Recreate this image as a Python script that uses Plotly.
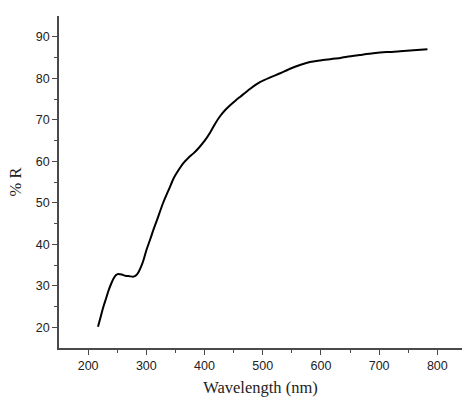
import plotly.graph_objects as go

wavelength = [217, 222, 226, 231, 235, 240, 244, 248, 252, 258, 264, 271, 278, 283, 287, 291,
              295, 300, 306, 312, 318, 329, 340, 347, 356, 364, 372, 381, 390, 400, 410,
              418, 427, 436, 444, 453, 461, 478, 496, 513, 530, 547, 564, 581, 599,
              616, 633, 645, 667, 690, 713, 736, 759, 783]
reflectance = [20.1, 22.7, 24.8, 27.0, 28.8, 30.6, 31.8, 32.6, 32.85, 32.7, 32.4, 32.3, 32.2, 32.6, 33.4, 34.6,
               36.1, 38.5, 40.9, 43.4, 45.7, 50.0, 53.6, 55.9, 58.0, 59.6, 60.8, 61.9, 63.2, 64.9, 67.0,
               69.0, 70.9, 72.4, 73.5, 74.6, 75.5, 77.4, 79.1, 80.2, 81.2, 82.3, 83.2, 83.9, 84.3,
               84.6, 84.9, 85.2, 85.6, 86.0, 86.3, 86.5, 86.75, 87.0]

fig = go.Figure()
fig.add_trace(go.Scatter(x=wavelength, y=reflectance, mode="lines",
                         line=dict(color="black", width=2, shape="spline", smoothing=0.7),
                         hoverinfo="skip"))

axis_color = "#4a4a4a"
fig.update_layout(
    width=462, height=397,
    margin=dict(l=59, r=0, t=16, b=49),
    paper_bgcolor="white", plot_bgcolor="white",
    showlegend=False,
    xaxis=dict(
        range=[150, 842.4], tickvals=[200, 300, 400, 500, 600, 700, 800],
        showgrid=False, zeroline=False,
        showline=True, linecolor=axis_color, linewidth=1.5,
        ticks="outside", ticklen=5, tickwidth=1.2, tickcolor=axis_color,
        minor=dict(tickvals=[250, 350, 450, 550, 650, 750], ticks="outside", ticklen=3,
                   tickwidth=1.2, tickcolor=axis_color, showgrid=False),
        tickfont=dict(family="Liberation Sans, Arial", size=12.5, color="#222"),
        title=dict(text="Wavelength (nm)", standoff=10,
                   font=dict(family="Liberation Serif, Times New Roman", size=16.5, color="#222")),
    ),
    yaxis=dict(
        range=[15, 95], tickvals=[20, 30, 40, 50, 60, 70, 80, 90],
        showgrid=False, zeroline=False,
        showline=True, linecolor=axis_color, linewidth=1.5,
        ticks="outside", ticklen=5, tickwidth=1.2, tickcolor=axis_color,
        minor=dict(tickvals=[25, 35, 45, 55, 65, 75, 85], ticks="outside", ticklen=3,
                   tickwidth=1.2, tickcolor=axis_color, showgrid=False),
        tickfont=dict(family="Liberation Sans, Arial", size=12.5, color="#222"),
        title=dict(text="% R", standoff=10,
                   font=dict(family="Liberation Serif, Times New Roman", size=16.5, color="#222")),
    ),
)

fig.write_html("out.html")
